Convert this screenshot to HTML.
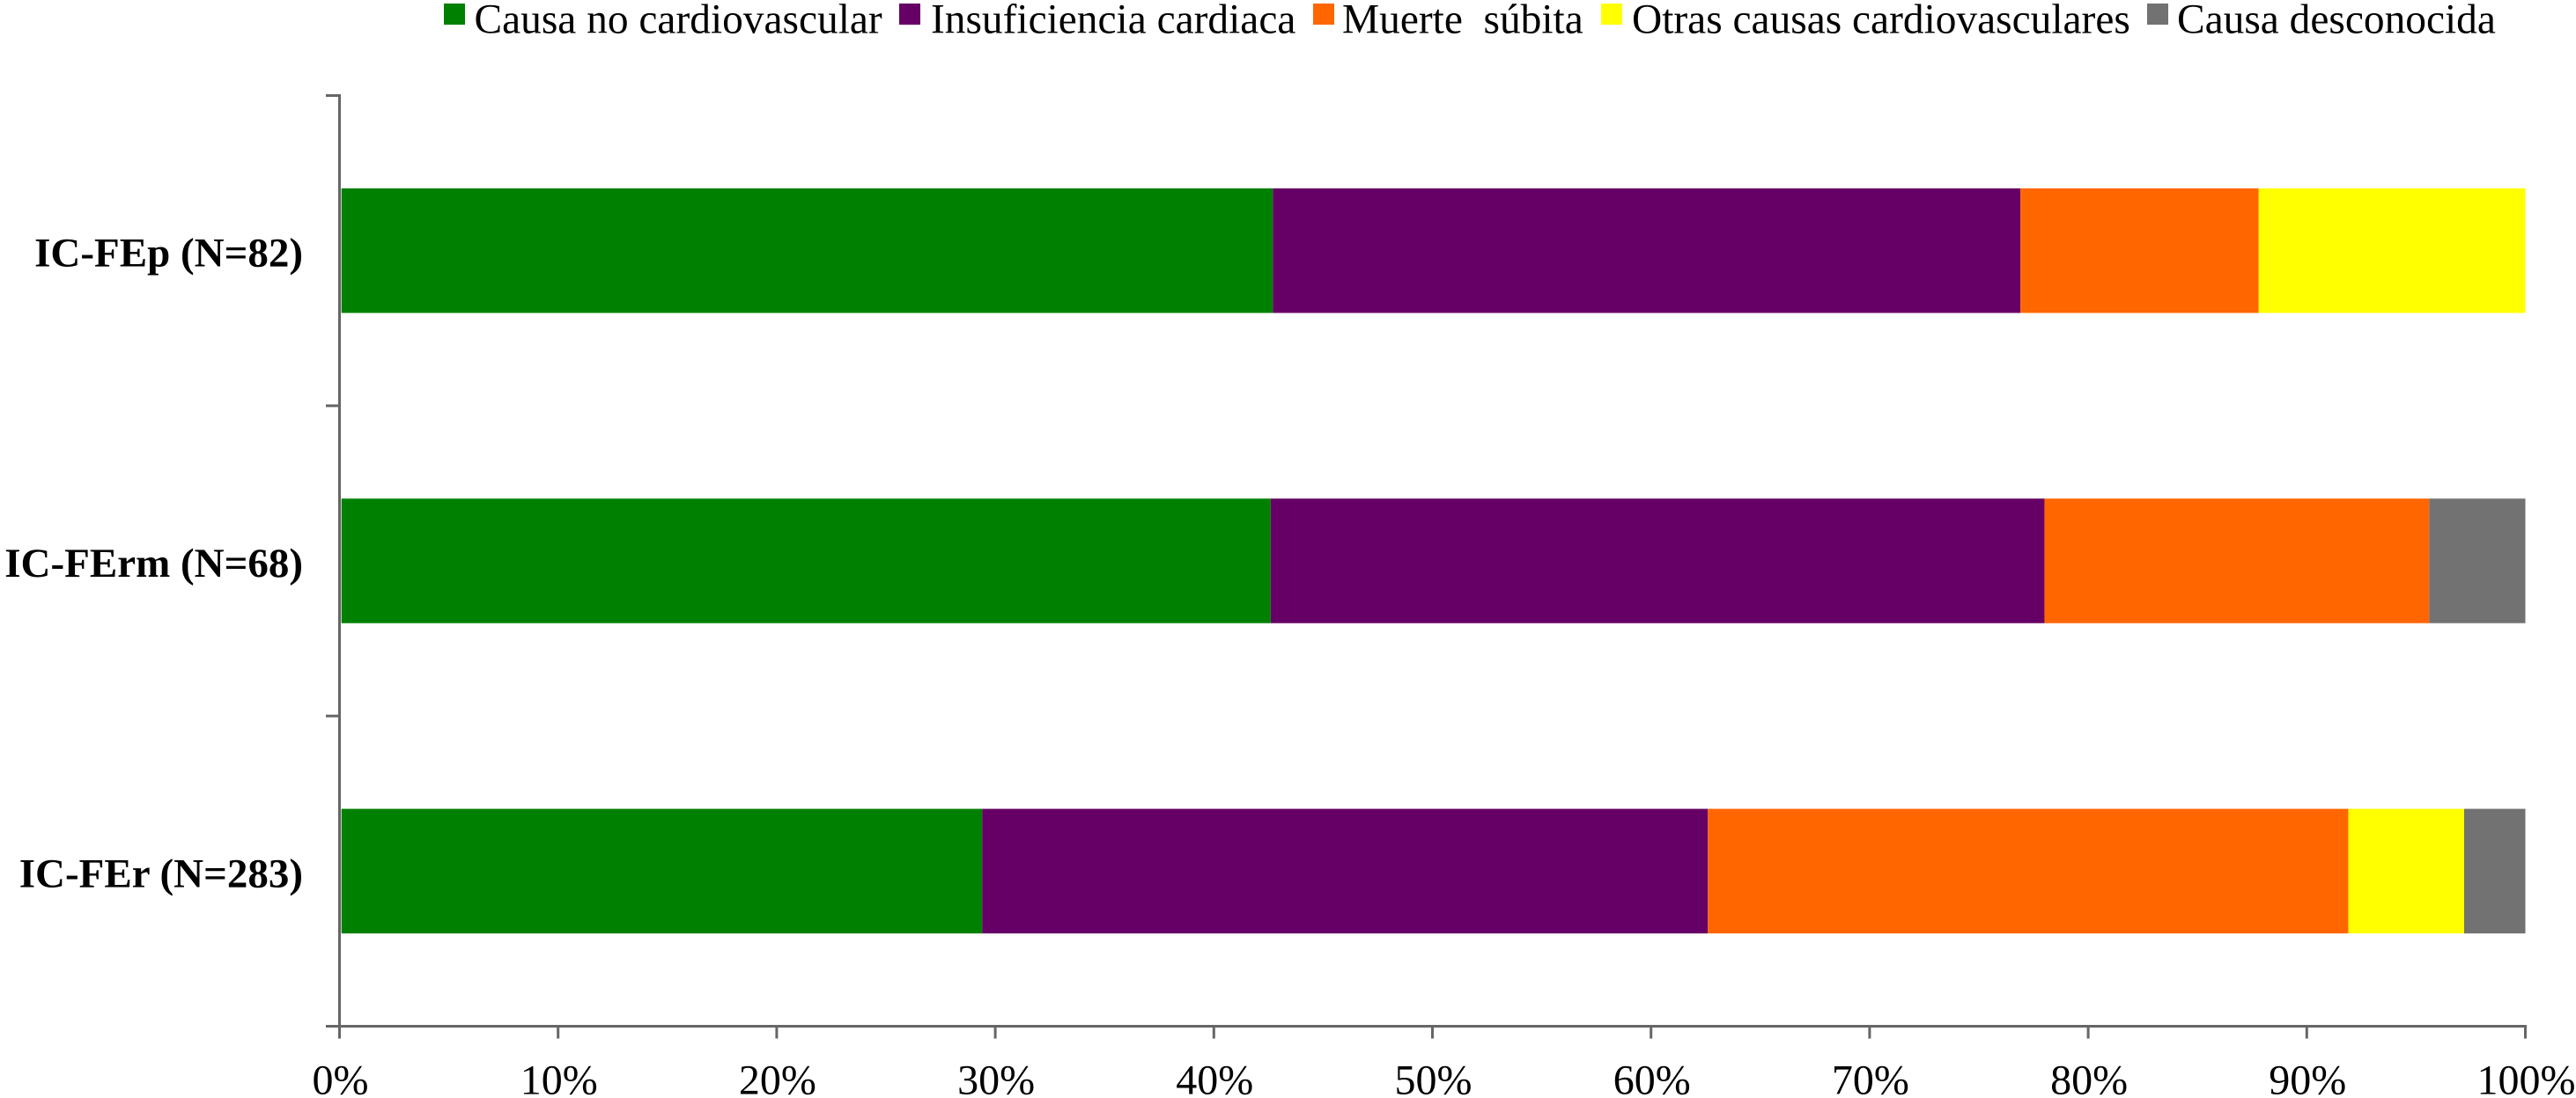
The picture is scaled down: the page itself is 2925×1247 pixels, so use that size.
<!DOCTYPE html>
<html lang="es">
<head>
<meta charset="utf-8">
<title>Causas de muerte por grupo de IC</title>
<style>
  html, body { margin: 0; padding: 0; background: #fff; }
  body { width: 2925px; height: 1247px; overflow: hidden; }
  svg { display: block; }
  text { font-family: "Liberation Serif", "Times New Roman", serif; fill: #000; }
  .legend-label { font-size: 47.4px; }
  .tick-label { font-size: 48px; }
  .category-label { font-size: 47px; font-weight: bold; }
</style>
</head>
<body>
<svg id="chart" width="2925" height="1247" viewBox="0 0 2925 1247" xmlns="http://www.w3.org/2000/svg">
  <rect x="0" y="0" width="2925" height="1247" fill="#ffffff"/>
  <g id="bars"></g>
  <g id="axes"></g>
  <g>
    <g>
      <rect x="504" y="4" width="24" height="24" fill="#008000"/>
      <text class="legend-label" x="538.5" y="37.3">Causa no cardiovascular</text>
    </g>
    <g>
      <rect x="1021" y="4" width="24" height="24" fill="#660066"/>
      <text class="legend-label" x="1057" y="37.3">Insuficiencia cardiaca</text>
    </g>
    <g>
      <rect x="1491" y="4" width="24" height="24" fill="#ff6600"/>
      <text class="legend-label" x="1524" y="37.3" xml:space="preserve" style="white-space:pre">Muerte  súbita</text>
    </g>
    <g>
      <rect x="1818" y="4" width="24" height="24" fill="#ffff00"/>
      <text class="legend-label" x="1853" y="37.3">Otras causas cardiovasculares</text>
    </g>
    <g>
      <rect x="2438" y="4" width="24" height="24" fill="#727272"/>
      <text class="legend-label" x="2472" y="37.3">Causa desconocida</text>
    </g>
  </g>
</svg>
<script>
// Chart data (percentages of deaths per group, top bar first)
const categories = ["IC-FEp (N=82)", "IC-FErm (N=68)", "IC-FEr (N=283)"];
const causaNoCardiovascular = [42.7, 42.6, 29.4];
const insuficienciaCardiaca = [34.2, 35.4, 33.2];
const muerteSubita = [10.9, 17.6, 29.3];
const otrasCausas = [12.2, 0, 5.3];
const causaDesconocida = [0, 4.4, 2.8];
const seriesNames = ["causa-no-cardiovascular", "insuficiencia-cardiaca", "muerte-subita", "otras-causas", "causa-desconocida"];
const seriesColors = ["#008000", "#660066", "#ff6600", "#ffff00", "#727272"];
const seriesValues = [causaNoCardiovascular, insuficienciaCardiaca, muerteSubita, otrasCausas, causaDesconocida];
const xTicks = [0, 10, 20, 30, 40, 50, 60, 70, 80, 90, 100];
const xTickLabels = ["0%", "10%", "20%", "30%", "40%", "50%", "60%", "70%", "80%", "90%", "100%"];

const NS = "http://www.w3.org/2000/svg";
const plot = { left: 385.5, right: 2867.5, top: 108.5, bottom: 1165.5 };
const barHeight = 141.5;
const axisColor = "#666666";
const axisGap = 2.2;

function xScale(v) {
  return plot.left + (v / 100) * (plot.right - plot.left);
}
function bandEdge(i) {
  return plot.top + (i / categories.length) * (plot.bottom - plot.top);
}
function bandCenter(i) {
  return (bandEdge(i) + bandEdge(i + 1)) / 2;
}
function make(tag, attrs, parent) {
  const el = document.createElementNS(NS, tag);
  for (const k in attrs) el.setAttribute(k, attrs[k]);
  parent.appendChild(el);
  return el;
}

const barsGroup = document.getElementById("bars");
const axesGroup = document.getElementById("axes");

categories.forEach(function (cat, i) {
  let cum = 0;
  seriesValues.forEach(function (values, s) {
    const v = values[i];
    const start = cum;
    cum += v;
    if (v <= 0) return;
    const x0 = xScale(start) + (start === 0 ? axisGap : 0);
    const x1 = xScale(cum);
    const seg = make("rect", { x: x0, y: bandCenter(i) - barHeight / 2, width: x1 - x0, height: barHeight, fill: seriesColors[s] }, barsGroup);
    
    
  });
  const label = make("text", { x: 344, y: bandCenter(i) + 18, "text-anchor": "end", class: "category-label" }, axesGroup);
  label.textContent = cat;
  
  
});

const yAxis = make("line", { x1: plot.left, x2: plot.left, y1: plot.top - 1.5, y2: plot.bottom + 1.5, stroke: axisColor, "stroke-width": 3 }, axesGroup);



for (let i = 0; i <= categories.length; i++) {
  const t = make("line", { x1: 370, x2: plot.left, y1: bandEdge(i), y2: bandEdge(i), stroke: axisColor, "stroke-width": 3 }, axesGroup);
  
  
}

const xAxis = make("line", { x1: 370, x2: plot.right + 1.5, y1: plot.bottom, y2: plot.bottom, stroke: axisColor, "stroke-width": 3 }, axesGroup);



xTicks.forEach(function (tv, i) {
  const t = make("line", { x1: xScale(tv), x2: xScale(tv), y1: plot.bottom, y2: 1179.5, stroke: axisColor, "stroke-width": 3 }, axesGroup);
  
  
  const lab = make("text", { x: xScale(tv) + 1, y: 1242.5, "text-anchor": "middle", class: "tick-label" }, axesGroup);
  lab.textContent = xTickLabels[i];
  
  
});
</script>
</body>
</html>
